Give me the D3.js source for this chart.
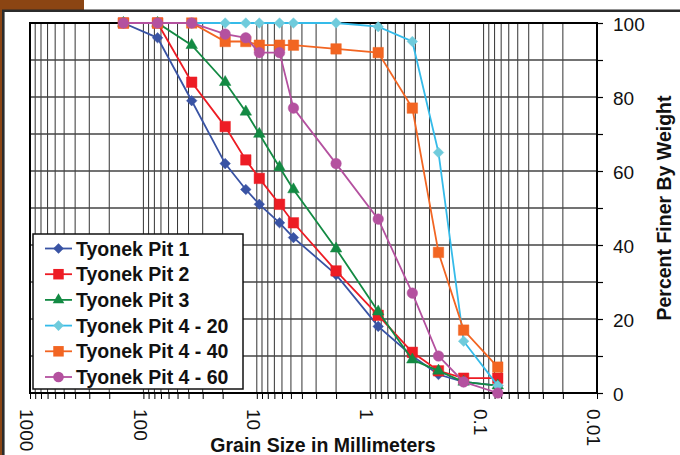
<!DOCTYPE html>
<html>
<head>
<meta charset="utf-8">
<script src="https://cdn.jsdelivr.net/npm/d3@7"></script>
<style>
  html, body { margin: 0; padding: 0; background: #fff; }
  svg { display: block; font-family: "Liberation Sans", Arial, sans-serif; }
</style>
</head>
<body>
<div id="chart"></div>
<script>
// sieve sizes (mm)
const sizes = [150, 75, 37.5, 19, 12.5, 9.5, 6.3, 4.75, 2.0, 0.85, 0.425, 0.25, 0.15, 0.075];

// percent finer by weight
const pit1   = [100, 96, 79, 62, 55, 51, 46, 42, 32, 18, 10, 5, 3, 2];
const pit2   = [100, 100, 84, 72, 63, 58, 51, 46, 33, 21, 11, 6, 4, 4];
const pit3   = [100, 100, 94, 84, 76, 70, 61, 55, 39, 22, 9, 6, 3, 2];
const pit420 = [100, 100, 100, 100, 100, 100, 100, 100, 100, 99, 95, 65, 14, 2];
const pit440 = [100, 100, 100, 95, 95, 94, 94, 94, 93, 92, 77, 38, 17, 7];
const pit460 = [100, 100, 100, 97, 96, 92, 92, 77, 62, 47, 27, 10, 3, 0];

const seriesNames = ["Tyonek Pit 1", "Tyonek Pit 2", "Tyonek Pit 3",
                     "Tyonek Pit 4 - 20", "Tyonek Pit 4 - 40", "Tyonek Pit 4 - 60"];
const seriesValues = [pit1, pit2, pit3, pit420, pit440, pit460];

const xMajor = [1000, 100, 10, 1, 0.1, 0.01];
const xMajorLabels = ["1000", "100", "10", "1", "0.1", "0.01"];
const yTicks = [0, 10, 20, 30, 40, 50, 60, 70, 80, 90, 100];

// square diamond (same width and height), like the spreadsheet marker
const squareDiamond = {
    draw(context, size) {
        const r = Math.sqrt(size / 2);
        context.moveTo(0, -r);
        context.lineTo(r, 0);
        context.lineTo(0, r);
        context.lineTo(-r, 0);
        context.closePath();
    }
};

// look of each series
const styles = [
    { line: "#3953a4", fill: "#3953a4", shape: squareDiamond, size: 56 },
    { line: "#ed1c24", fill: "#ed1c24", shape: d3.symbolSquare, size: 110 },
    { line: "#138a43", fill: "#138a43", shape: d3.symbolTriangle, size: 58 },
    { line: "#35bbe9", fill: "#6fcbdc", shape: squareDiamond, size: 56 },
    { line: "#f26522", fill: "#f26522", shape: d3.symbolSquare, size: 110 },
    { line: "#b4519f", fill: "#b4519f", shape: d3.symbolCircle, size: 88 }
];

const W = 680, H = 455;
const plot = { left: 30, right: 597, top: 23, bottom: 393 };

const svg = d3.select("#chart").append("svg")
    .attr("width", W)
    .attr("height", H);

// frame: brown tab + dark border
svg.append("rect").attr("x", 0).attr("y", 0).attr("width", 84).attr("height", 10).attr("fill", "#8b4513");
svg.append("rect").attr("x", 0).attr("y", 0).attr("width", 2).attr("height", H).attr("fill", "#8b4513");
svg.append("path")
    .attr("d", `M3.3,${H} L3.3,10.7 L${W},10.7`)
    .attr("fill", "none")
    .attr("stroke", "#2b2b2b")
    .attr("stroke-width", 2.6);

const x = d3.scaleLog().domain([1000, 0.01]).range([plot.left, plot.right]);
const y = d3.scaleLinear().domain([0, 100]).range([plot.bottom, plot.top]);

// grid
const grid = svg.append("g").attr("class", "grid");
grid.selectAll(".vgrid")
    .data(x.ticks())
    .join("line")
    .attr("class", "vgrid")
    .attr("x1", d => x(d)).attr("x2", d => x(d))
    .attr("y1", plot.top).attr("y2", plot.bottom)
    .attr("stroke", "#333")
    .attr("stroke-width", 1);

grid.selectAll(".hgrid")
    .data(yTicks)
    .join("line")
    .attr("class", "hgrid")
    .attr("x1", plot.left).attr("x2", plot.right)
    .attr("y1", d => y(d)).attr("y2", d => y(d))
    .attr("stroke", "#444")
    .attr("stroke-width", 1.3);

// bottom ticks
const xAxis = svg.append("g")
    .attr("transform", `translate(0,${plot.bottom})`)
    .call(d3.axisBottom(x).tickValues(x.ticks()).tickSize(6).tickFormat(""));
xAxis.select(".domain").remove();
xAxis.selectAll(".tick line").attr("stroke", "#000");

// x tick labels, rotated
svg.append("g").selectAll("text")
    .data(xMajor)
    .join("text")
    .attr("transform", d => `translate(${x(d) - 3},409) rotate(90)`)
    .attr("dy", "0.36em")
    .attr("font-size", 19)
    .attr("fill", "#111")
    .text((d, i) => xMajorLabels[i]);

// right axis
const yAxis = svg.append("g")
    .attr("transform", `translate(${plot.right},0)`)
    .call(d3.axisRight(y).tickValues(yTicks).tickSize(6).tickPadding(10)
        .tickFormat(d => d % 20 === 0 ? d : ""));
yAxis.select(".domain").remove();
yAxis.selectAll(".tick line").attr("stroke", "#000").attr("stroke-width", 1.2);
yAxis.selectAll(".tick text")
    .attr("font-size", 19)
    .attr("font-family", "Liberation Sans, Arial, sans-serif")
    .attr("fill", "#111")
    .attr("dy", "0.42em");

// plot border
svg.append("rect")
    .attr("x", plot.left).attr("y", plot.top)
    .attr("width", plot.right - plot.left)
    .attr("height", plot.bottom - plot.top)
    .attr("fill", "none")
    .attr("stroke", "#000")
    .attr("stroke-width", 2);

// series
const line = d3.line()
    .x(d => x(d.size))
    .y(d => y(d.value));

const seriesLayer = svg.append("g").attr("class", "series");
seriesValues.forEach((vals, i) => {
    const pts = sizes.map((s, j) => ({ size: s, value: vals[j] }));
    const st = styles[i];
    const g = seriesLayer.append("g");
    g.append("path")
        .datum(pts)
        .attr("d", line)
        .attr("fill", "none")
        .attr("stroke", st.line)
        .attr("stroke-width", 1.8);
    g.selectAll("path.marker")
        .data(pts)
        .join("path")
        .attr("class", "marker")
        .attr("transform", d => `translate(${x(d.size)},${y(d.value)})`)
        .attr("d", d3.symbol().type(st.shape).size(st.size))
        .attr("fill", st.fill)
        .attr("stroke", st.fill)
        .attr("stroke-opacity", 0.45)
        .attr("stroke-width", 1);
});

// legend
const legend = svg.append("g").attr("class", "legend");
legend.append("rect")
    .attr("x", 33).attr("y", 234)
    .attr("width", 210).attr("height", 155)
    .attr("fill", "#fff")
    .attr("stroke", "#111")
    .attr("stroke-width", 1.5);

seriesNames.forEach((name, i) => {
    const st = styles[i];
    const ly = 248.5 + i * 25.7;
    const row = legend.append("g");
    row.append("line")
        .attr("x1", 45).attr("x2", 72)
        .attr("y1", ly).attr("y2", ly)
        .attr("stroke", st.line)
        .attr("stroke-width", 1.8);
    row.append("path")
        .attr("transform", `translate(58.5,${ly})`)
        .attr("d", d3.symbol().type(st.shape).size(st.size))
        .attr("fill", st.fill);
    row.append("text")
        .attr("x", 76)
        .attr("y", ly)
        .attr("dy", "0.36em")
        .attr("font-size", 19.5)
        .attr("font-weight", "bold")
        .attr("fill", "#111")
        .text(name);
});

// axis titles
svg.append("text")
    .attr("x", 323)
    .attr("y", 452)
    .attr("text-anchor", "middle")
    .attr("font-size", 19.5)
    .attr("font-weight", "bold")
    .attr("fill", "#111")
    .text("Grain Size in Millimeters");

svg.append("text")
    .attr("transform", `translate(671,${(plot.top + plot.bottom) / 2}) rotate(-90)`)
    .attr("text-anchor", "middle")
    .attr("font-size", 19.5)
    .attr("font-weight", "bold")
    .attr("fill", "#111")
    .text("Percent Finer By Weight");
</script>
</body>
</html>
